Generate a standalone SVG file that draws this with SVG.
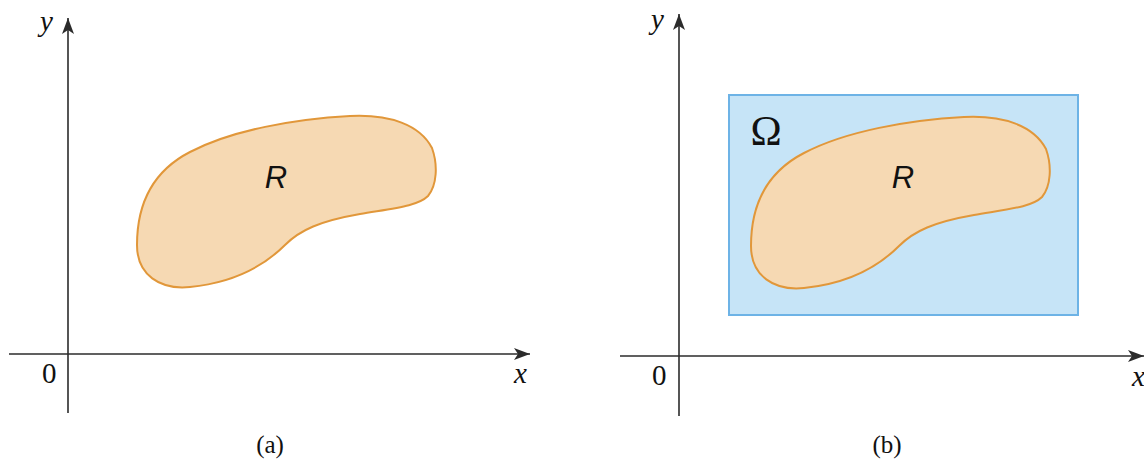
<svg xmlns="http://www.w3.org/2000/svg" width="1144" height="464" viewBox="0 0 1144 464">
<defs>
<style>
.axis{stroke:#2b2b2b;stroke-width:1.6;fill:none}
.blob{fill:#f6d9b3;stroke:#e1973a;stroke-width:2}
.rect{fill:#c6e4f7;stroke:#6db3e6;stroke-width:2}
.lab{font-family:"Liberation Serif",serif;font-style:italic;font-size:29px;fill:#111}
.num{font-family:"Liberation Serif",serif;font-size:29px;fill:#111}
.cap{font-family:"Liberation Serif",serif;font-size:25px;fill:#111}
.R{font-family:"Liberation Sans",sans-serif;font-style:italic;font-size:31px;fill:#111}
.om{font-family:"Liberation Serif",serif;font-size:42px;fill:#111}
</style>
<marker id="arr" markerUnits="userSpaceOnUse" markerWidth="18" markerHeight="14" refX="16" refY="7" orient="auto">
<path d="M0,1 L16,7 L0,13 L4,7 Z" fill="#2b2b2b"/>
</marker>
<path id="blobShape" d="M137,245 C137,200 155,170 190,152 C232,130 295,119 350,116 C390,114 420,125 432,148 C438,165 437,185 428,196 C418,206 395,208 360,214 C320,221 300,230 285,245 C268,262 240,282 190,287 C160,290 137,275 137,245 Z"/>
</defs>
<rect width="1144" height="464" fill="#ffffff"/>

<g id="panel-a">
<g id="region-a"><use href="#blobShape" class="blob"/><text class="R" x="276" y="188" text-anchor="middle">R</text></g>
</g>
<g id="panel-b">
<g id="omega-rect"><rect class="rect" x="729" y="95" width="349" height="220"/><text class="om" x="766" y="145" text-anchor="middle">Ω</text></g>
<g id="region-b"><use href="#blobShape" class="blob" transform="translate(614,1)"/><text class="R" x="903" y="188" text-anchor="middle">R</text></g>
</g>

<g id="connectors">
<line class="axis" x1="68" y1="413" x2="68" y2="18" marker-end="url(#arr)"/>
<line class="axis" x1="9" y1="354" x2="530" y2="354" marker-end="url(#arr)"/>
<line class="axis" x1="679" y1="416" x2="679" y2="14" marker-end="url(#arr)"/>
<line class="axis" x1="620" y1="356" x2="1144" y2="356" marker-end="url(#arr)"/>
</g>

<g id="labels">
<text class="lab" x="40" y="31">y</text>
<text class="num" x="42" y="383">0</text>
<text class="lab" x="514" y="383">x</text>
<text class="cap" x="270" y="453" text-anchor="middle">(a)</text>
<text class="lab" x="651" y="29">y</text>
<text class="num" x="652" y="385">0</text>
<text class="lab" x="1132" y="386">x</text>
<text class="cap" x="887" y="453" text-anchor="middle">(b)</text>
</g>
</svg>
